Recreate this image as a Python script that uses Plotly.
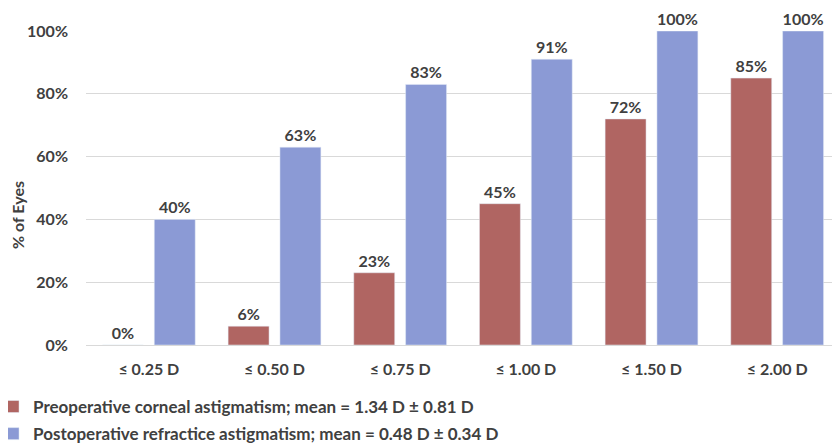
import plotly.graph_objects as go

categories = ["≤ 0.25 D", "≤ 0.50 D", "≤ 0.75 D", "≤ 1.00 D", "≤ 1.50 D", "≤ 2.00 D"]
preop = [0, 6, 23, 45, 72, 85]
postop = [40, 63, 83, 91, 100, 100]
preop_name = "Preoperative corneal astigmatism; mean = 1.34 D ± 0.81 D"
postop_name = "Postoperative refractice astigmatism; mean = 0.48 D ± 0.34 D"
y_ticks = [0, 20, 40, 60, 80, 100]
y_title = "% of Eyes"

FONT = "Lato"
TXT = "#404040"

fig = go.Figure()
fig.add_trace(go.Bar(
    x=categories, y=preop, name=preop_name, legendgroup="pre",
    marker=dict(color="#B06562"),
    text=[f"{v}%" for v in preop], textposition="outside", constraintext="none",
    textfont=dict(family=FONT, size=16, color=TXT, weight="bold"),
    cliponaxis=False,
))
fig.add_trace(go.Bar(
    x=categories, y=postop, name=postop_name, legendgroup="post",
    marker=dict(color="#8B9AD5"),
    text=[f"{v}%" for v in postop], textposition="outside", constraintext="none",
    textfont=dict(family=FONT, size=16, color=TXT, weight="bold"),
    cliponaxis=False,
))

fig.update_layout(
    width=832, height=436,
    margin=dict(l=78, r=0, t=23, b=99, autoexpand=False),
    paper_bgcolor="white", plot_bgcolor="white",
    barmode="group", bargap=0.175, bargroupgap=0.21,
    font=dict(family=FONT, color=TXT),
    showlegend=True,
    legend=dict(
        xref="paper", yref="paper", x=-0.1233, y=-0.140,
        xanchor="left", yanchor="top",
        orientation="v",
        font=dict(family=FONT, size=17, color=TXT, weight="bold"),
        itemwidth=30, tracegroupgap=2,
        bgcolor="rgba(0,0,0,0)",
    ),
    annotations=[dict(
        text=y_title, xref="paper", yref="paper", x=-0.0915, y=0.414,
        xanchor="center", yanchor="middle", textangle=-90, showarrow=False,
        font=dict(family=FONT, size=16, color=TXT, weight="bold"),
    )],
)
fig.update_xaxes(
    tickfont=dict(family=FONT, size=16, color=TXT, weight="bold"),
    showline=True, linecolor="#D9D9D9", linewidth=1,
    ticks="", ticklen=0, tickangle=0, ticklabelstandoff=10,
)
fig.update_yaxes(
    range=[0, 100], tickvals=y_ticks, ticktext=[f"{v}%" for v in y_ticks],
    tickfont=dict(family=FONT, size=16, color=TXT, weight="bold"),
    showgrid=True, gridcolor="#D9D9D9", gridwidth=1,
    zeroline=False, ticks="", ticklabelstandoff=17,
)

fig.write_html("out.html")
